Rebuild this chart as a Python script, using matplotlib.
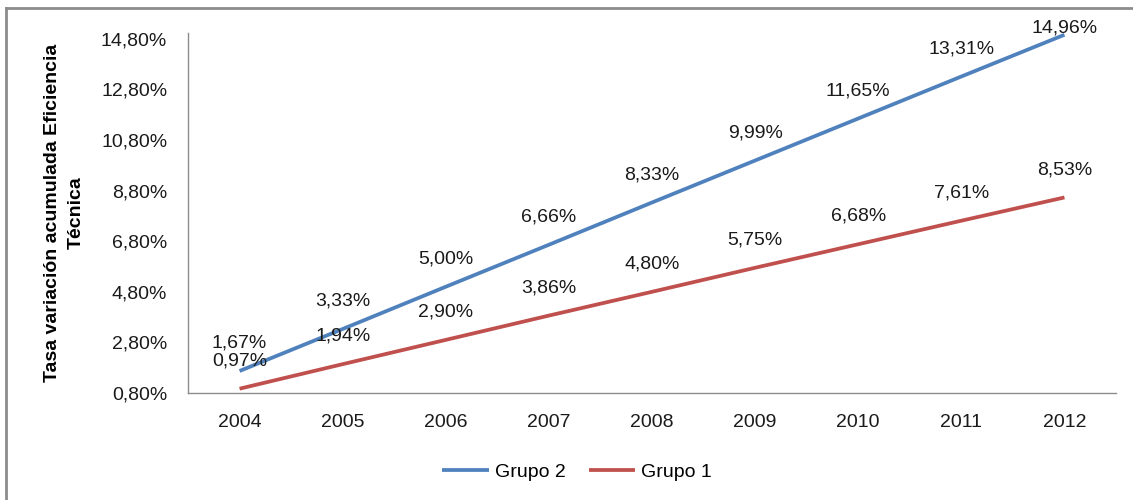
#!/usr/bin/env python
"""
Tasa de variación acumulada de la eficiencia técnica, Grupo 1 vs Grupo 2
"""
import matplotlib
matplotlib.use('Agg')
import matplotlib.pyplot as plt
from matplotlib.lines import Line2D
from matplotlib.ticker import FuncFormatter

years = ['2004', '2005', '2006', '2007', '2008', '2009', '2010', '2011', '2012']
grupo2 = [1.67, 3.33, 5.00, 6.66, 8.33, 9.99, 11.65, 13.31, 14.96]
grupo1 = [0.97, 1.94, 2.90, 3.86, 4.80, 5.75, 6.68, 7.61, 8.53]
yticks = [0.8, 2.8, 4.8, 6.8, 8.8, 10.8, 12.8, 14.8]

BLUE = '#4F81BD'
RED = '#C0504D'
GREY = '#8C8C8C'


def pct(v):
    return '{:.2f}%'.format(v).replace('.', ',')


def main():
    plt.rcParams['font.family'] = ['Liberation Sans', 'DejaVu Sans']
    fig = plt.figure(figsize=(11.33, 5.0), dpi=100)
    ax = fig.add_axes([188 / 1133, 0.214, 928 / 1133, 0.72])

    x = list(range(len(years)))
    ax.plot(x, grupo2, color=BLUE, lw=2.7, label='Grupo 2', solid_capstyle='butt')
    ax.plot(x, grupo1, color=RED, lw=2.7, label='Grupo 1', solid_capstyle='butt')

    ymax = 15.03
    for series in (grupo2, grupo1):
        for xi, v in zip(x, series):
            # keep labels inside the chart area, like Excel does
            dy = 20 if v < 14.5 else 5
            ax.annotate(pct(v), (xi, v), xytext=(0, dy), textcoords='offset points',
                        ha='center', va='center', fontsize=14, color='#1a1a1a')

    ax.set_xlim(-0.5, len(years) - 0.5)
    ax.set_ylim(0.8, ymax)
    ax.set_xticks(x)
    ax.set_xticklabels(years)
    ax.set_yticks(yticks)
    ax.yaxis.set_major_formatter(FuncFormatter(lambda v, _: pct(v)))
    ax.tick_params(length=0, labelsize=14, labelcolor='#1a1a1a')
    ax.tick_params(axis='y', pad=15)
    ax.tick_params(axis='x', pad=15)
    for s in ('top', 'right'):
        ax.spines[s].set_visible(False)
    for s in ('left', 'bottom'):
        ax.spines[s].set_color(GREY)
        ax.spines[s].set_linewidth(1.0)

    ax.set_ylabel('Tasa variación acumulada Eficiencia\nTécnica', fontsize=14,
                  fontweight='bold', linespacing=1.55)
    ax.yaxis.set_label_coords(-0.111, 0.5)

    ax.legend(loc='center', bbox_to_anchor=(577 / 1133, 1 - 472 / 500),
              bbox_transform=fig.transFigure, ncol=2, frameon=False,
              fontsize=14, handlelength=2.4, handletextpad=0.3, columnspacing=1.2)

    # outer chart frame (right and bottom edges are cropped off)
    fig.add_artist(Line2D([6 / 1133, 6 / 1133], [0, 1 - 8 / 500], color=GREY, lw=2,
                          transform=fig.transFigure))
    fig.add_artist(Line2D([6 / 1133, 1], [1 - 8 / 500, 1 - 8 / 500], color=GREY, lw=2,
                          transform=fig.transFigure))

    fig.savefig('out.png', dpi=100)


if __name__ == '__main__':
    main()
